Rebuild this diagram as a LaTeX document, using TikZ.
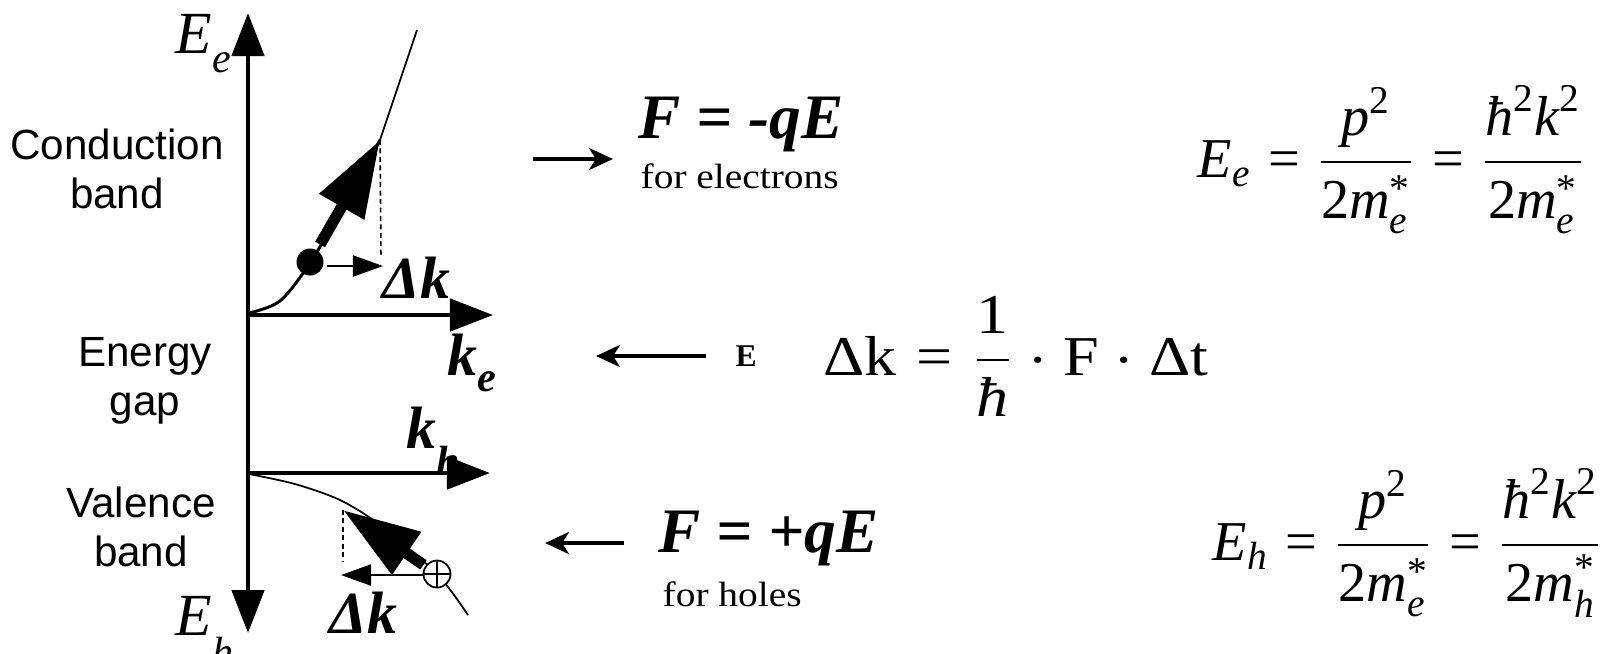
\documentclass[tikz,border=0pt]{standalone}
\usepackage{amsmath}
\usepackage{graphicx}
\usepackage{fontspec}
\setmainfont{Liberation Serif}
\setsansfont{Liberation Sans}
\usetikzlibrary{positioning,arrows.meta}
\newcommand\mi[1]{\text{\itshape #1}}
\newcommand\mr[1]{\text{\upshape #1}}
\newcommand\fs[1]{\fontsize{#1}{#1}\selectfont}

\begin{document}
\begin{tikzpicture}[x=0.01cm,y=-0.01cm,
  every node/.style={inner sep=0pt},
  axtip/.tip={Triangle[length=0.43cm,width=0.32cm]},
  band/.style={font=\sffamily\fontsize{12}{14}\selectfont,align=center},
  lbl/.style={anchor=base west},
  bigit/.style={lbl,font=\fs{17}\bfseries\itshape},
  axis/.style={line width=1.35pt,-axtip},
  disp/.style={line width=0.6pt,-{Triangle[length=0.3cm,width=0.21cm]}},
  force/.style={line width=3.2pt,-{Triangle[length=0.77cm,width=0.49cm]}},
  field/.style={line width=1.3pt,-{Stealth[length=0.24cm,width=0.22cm,inset=0.07cm]}},
  proj/.style={line width=0.45pt,dash pattern=on 1.4pt off 1pt},
  band curve/.style={line width=0.85pt},
  thin curve/.style={line width=0.5pt}
]
\useasboundingbox (0,0) rectangle (1604,653);

\coordinate (etop) at (248,13);
\coordinate (ebot) at (248,633);
\coordinate (eo) at (248,315);
\coordinate (ke) at (493,315);
\coordinate (ho) at (248,473);
\coordinate (kh) at (490,473);
\coordinate (etip) at (380,140);
\coordinate (eend) at (417,30);
\coordinate (ebase) at (381,258);
\coordinate (htip) at (343,510);
\coordinate (hbase) at (342,562);
\coordinate (dkes) at (327,266);
\coordinate (dkee) at (383,266);
\coordinate (dkhs) at (423,575);
\coordinate (dkhe) at (341,575);

\node[band] (cb) at (117,169) {Conduction\\band};
\node[band] (eg) at (145,381) {Energy\\gap};
\node[band] (vb) at (141,527) {Valence\\band};

\node[lbl,font=\fs{17}\itshape] (Ee) at (175,53) {E\raisebox{-5.4pt}{\fs{12}e}};
\node[lbl,font=\fs{17}\itshape] (Eh) at (175,635) {E\raisebox{-9pt}{\fs{12}h}};
\node[bigit] (kel) at (447,375) {k\raisebox{-4.8pt}{\fs{12}e}};
\node[bigit] (khl) at (406,448) {k\raisebox{-7.7pt}{\fs{12}h}};
\node[bigit] (dke) at (382,298) {Δk};
\node[bigit] (dkh) at (329,633) {Δk};

\draw[axis,axtip-axtip] (ebot) -- (etop);
\draw[axis] (eo) -- (ke);
\draw[axis] (ho) -- (kh);

\draw[band curve] plot[smooth] coordinates {(249,313) (280,301) (310,263) (345,203) (etip)};
\draw[thin curve] (etip) -- (eend);
\draw[thin curve] plot[smooth] coordinates {(249,474) (295,484) (340,500) (380,525) (437,574) (468,615)};

\draw[proj] (etip) -- (ebase);
\draw[proj] (htip) -- (htip |- hbase);

\node[circle,fill,minimum size=0.27cm] (el) at (310,262) {};
\node[circle,draw,fill=white,line width=0.5pt,minimum size=0.27cm] (hole) at (437,574) {};
\draw[line width=0.5pt] (hole.north) -- (hole.south);
\draw[line width=0.5pt] (hole.west) -- (hole.east);

\draw[force,shorten <=0.06cm] (el) -- (etip);
\draw[force,shorten <=0.02cm] (hole) -- (htip);
\draw[disp] (dkes) -- (dkee);
\draw[disp] (dkhs) -- (dkhe);

\coordinate (fes) at (533,159);
\coordinate (fee) at (613,159);
\coordinate (Efs) at (706,356);
\coordinate (Efe) at (596,356);
\coordinate (fhs) at (624,543);
\coordinate (fhe) at (545,543);
\draw[field] (fes) -- (fee);
\draw[field] (Efs) -- (Efe);
\draw[field] (fhs) -- (fhe);

\node[lbl,font=\fs{18}\bfseries\itshape] (fel) at (638,138) {F = -qE};
\node[lbl,font=\fs{10}] (fell) at (640,188) {\scalebox{1.12}[1]{for electrons}};
\node[lbl,font=\fs{9}\bfseries] (Ef) at (735,366) {E};
\node[lbl,font=\fs{16}] (dk) at (823,375) {\scalebox{1.14}[1]{$\mr{Δk} \mathrel{\mr{=}} \dfrac{\mr{1}}{\mi{ħ}}\cdot\mr{F}\cdot\mr{Δt}$}};
\node[lbl,font=\fs{18}\bfseries\itshape] (fhl) at (658,552) {F = +qE};
\node[lbl,font=\fs{10}] (fhll) at (662,606) {\scalebox{1.12}[1]{for holes}};

\node[lbl,font=\fs{16}] (eqe) at (1197,177) {$\mi{E}_{\mi{e}} \mathrel{\mr{=}} \dfrac{\mi{p}^{\mr{2}}}{\mr{2}\mi{m}^{\mr{*}}_{\mi{e}}} \mathrel{\mr{=}} \dfrac{\mi{ħ}^{\mr{2}}\mi{k}^{\mr{2}}}{\mr{2}\mi{m}^{\mr{*}}_{\mi{e}}}$};
\node[lbl,font=\fs{16}] (eqh) at (1212,560) {$\mi{E}_{\mi{h}} \mathrel{\mr{=}} \dfrac{\mi{p}^{\mr{2}}}{\mr{2}\mi{m}^{\mr{*}}_{\mi{e}}} \mathrel{\mr{=}} \dfrac{\mi{ħ}^{\mr{2}}\mi{k}^{\mr{2}}}{\mr{2}\mi{m}^{\mr{*}}_{\mi{h}}}$};
\end{tikzpicture}
\end{document}
